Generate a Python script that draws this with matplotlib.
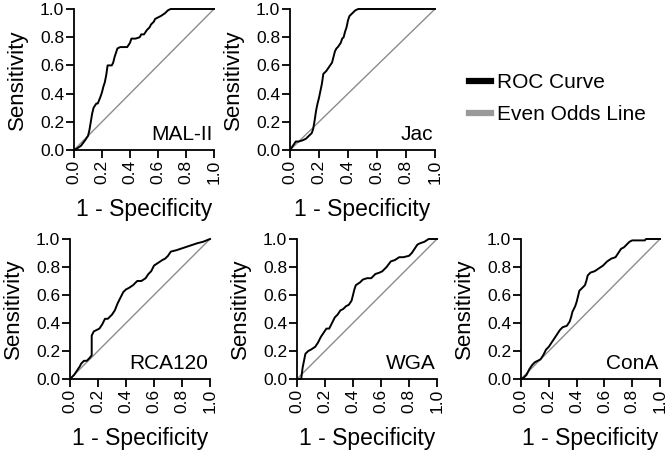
import matplotlib
matplotlib.use("Agg")
import matplotlib.pyplot as plt
from matplotlib.lines import Line2D

plt.rcParams["font.family"] = ["Liberation Sans", "DejaVu Sans"]

# datos (1 - especificidad, sensibilidad)
mal_fpr = [0, 0.02, 0.05, 0.08, 0.10, 0.11, 0.12, 0.13, 0.14, 0.16, 0.17, 0.19, 0.20, 0.21, 0.22, 0.23, 0.24,
           0.27, 0.28, 0.29, 0.30, 0.31, 0.33, 0.38, 0.40, 0.41, 0.44, 0.47, 0.48, 0.50, 0.52, 0.54, 0.55,
           0.57, 0.58, 0.60, 0.62, 0.65, 0.67, 0.69, 1.0]
mal_tpr = [0, 0.01, 0.03, 0.07, 0.10, 0.14, 0.20, 0.26, 0.30, 0.33, 0.33, 0.38, 0.41, 0.45, 0.48, 0.53, 0.60,
           0.60, 0.62, 0.66, 0.69, 0.72, 0.73, 0.73, 0.76, 0.79, 0.79, 0.80, 0.82, 0.82, 0.85, 0.87, 0.89,
           0.91, 0.93, 0.94, 0.95, 0.97, 0.99, 1.0, 1.0]

jac_fpr = [0, 0.02, 0.04, 0.06, 0.09, 0.11, 0.13, 0.15, 0.16, 0.17, 0.18, 0.19, 0.20, 0.21, 0.22, 0.23, 0.25,
           0.27, 0.29, 0.30, 0.31, 0.32, 0.33, 0.35, 0.36, 0.37, 0.38, 0.39, 0.40, 0.41, 0.43, 0.45, 0.47, 1.0]
jac_tpr = [0, 0.03, 0.06, 0.06, 0.07, 0.08, 0.10, 0.12, 0.15, 0.21, 0.28, 0.33, 0.37, 0.42, 0.47, 0.54, 0.56,
           0.59, 0.62, 0.66, 0.70, 0.72, 0.73, 0.76, 0.79, 0.80, 0.84, 0.87, 0.92, 0.95, 0.97, 0.99, 1.0, 1.0]

rca_fpr = [0, 0.03, 0.05, 0.07, 0.08, 0.10, 0.12, 0.14, 0.155, 0.155, 0.17, 0.19, 0.21, 0.23, 0.25, 0.27,
           0.30, 0.32, 0.34, 0.36, 0.38, 0.40, 0.42, 0.45, 0.48, 0.51, 0.54, 0.56, 0.58, 0.60, 0.63, 0.66,
           0.68, 0.70, 0.72, 0.76, 0.79, 0.82, 0.85, 0.88, 0.91, 0.95, 1.0]
rca_tpr = [0, 0.03, 0.06, 0.09, 0.11, 0.13, 0.13, 0.15, 0.17, 0.31, 0.34, 0.35, 0.36, 0.39, 0.43, 0.43,
           0.46, 0.49, 0.54, 0.58, 0.62, 0.64, 0.65, 0.67, 0.70, 0.70, 0.72, 0.75, 0.77, 0.81, 0.83, 0.85,
           0.86, 0.88, 0.91, 0.92, 0.93, 0.94, 0.95, 0.96, 0.97, 0.98, 1.0]

wga_fpr = [0, 0.03, 0.04, 0.05, 0.06, 0.08, 0.10, 0.13, 0.15, 0.17, 0.19, 0.21, 0.23, 0.25, 0.27, 0.29,
           0.31, 0.33, 0.35, 0.37, 0.39, 0.40, 0.41, 0.42, 0.45, 0.47, 0.50, 0.53, 0.56, 0.59, 0.61, 0.64,
           0.67, 0.70, 0.73, 0.76, 0.80, 0.82, 0.84, 0.86, 0.88, 0.91, 0.94, 1.0]
wga_tpr = [0, 0.0, 0.08, 0.13, 0.18, 0.20, 0.21, 0.23, 0.26, 0.30, 0.33, 0.36, 0.36, 0.40, 0.44, 0.46,
           0.49, 0.50, 0.52, 0.53, 0.56, 0.60, 0.64, 0.67, 0.69, 0.71, 0.72, 0.72, 0.75, 0.76, 0.77, 0.80,
           0.84, 0.85, 0.87, 0.87, 0.88, 0.90, 0.93, 0.96, 0.97, 0.98, 1.0, 1.0]

cona_fpr = [0, 0.02, 0.04, 0.06, 0.08, 0.10, 0.12, 0.14, 0.16, 0.18, 0.20, 0.22, 0.24, 0.26, 0.28, 0.30,
            0.33, 0.35, 0.36, 0.37, 0.39, 0.40, 0.41, 0.42, 0.44, 0.46, 0.47, 0.48, 0.50, 0.53, 0.56, 0.59,
            0.62, 0.65, 0.68, 0.70, 0.72, 0.74, 0.76, 0.78, 0.80, 0.89, 0.90, 1.0]
cona_tpr = [0, 0.01, 0.03, 0.07, 0.10, 0.12, 0.13, 0.14, 0.17, 0.21, 0.23, 0.26, 0.29, 0.32, 0.35, 0.37,
            0.38, 0.41, 0.44, 0.48, 0.52, 0.55, 0.59, 0.63, 0.65, 0.67, 0.70, 0.74, 0.76, 0.77, 0.79, 0.81,
            0.84, 0.86, 0.87, 0.90, 0.93, 0.94, 0.96, 0.98, 0.99, 0.99, 1.0, 1.0]

ticks = [0.0, 0.2, 0.4, 0.6, 0.8, 1.0]
tick_labels = ["0.0", "0.2", "0.4", "0.6", "0.8", "1.0"]

W, H = 670, 454
# (nombre, fpr, tpr, caja en pixeles izq, der, arriba, abajo)
paneles = [
    ("MAL-II", mal_fpr, mal_tpr, (74, 214, 9, 150)),
    ("Jac", jac_fpr, jac_tpr, (290, 435, 9, 150)),
    ("RCA120", rca_fpr, rca_tpr, (70, 210, 239, 379)),
    ("WGA", wga_fpr, wga_tpr, (297, 437, 239, 379)),
    ("ConA", cona_fpr, cona_tpr, (521, 660, 239, 379)),
]

fig = plt.figure(figsize=(W / 100, H / 100), dpi=100)

for nombre, fpr, tpr, (x0, x1, y0, y1) in paneles:
    ax = fig.add_axes([x0 / W, 1 - y1 / H, (x1 - x0) / W, (y1 - y0) / H])
    ax.plot(ticks, ticks, color="#8c8c8c", lw=1.0, clip_on=False, zorder=2)
    ax.plot(fpr, tpr, color="black", lw=1.4, clip_on=False, zorder=3)
    ax.set_xlim(0, 1)
    ax.set_ylim(0, 1)
    ax.set_xticks(ticks)
    ax.set_yticks(ticks)
    ax.set_xticklabels(tick_labels, rotation=90)
    ax.set_yticklabels(tick_labels)
    for s in ["top", "right"]:
        ax.spines[s].set_visible(False)
    for s in ["left", "bottom"]:
        ax.spines[s].set_linewidth(1.3)
    ax.tick_params(direction="out", length=5.5, width=1.3, labelsize=12.5, pad=1.5)
    ax.set_xlabel("1 - Specificity", fontsize=16.5, labelpad=10)
    ax.set_ylabel("Sensitivity", fontsize=16, labelpad=9)
    ax.text(0.99, 0.045, nombre, transform=ax.transAxes, ha="right", va="bottom", fontsize=15)

handles = [Line2D([], [], color="black", lw=4.5), Line2D([], [], color="#999999", lw=4.5)]
fig.legend(handles, ["ROC Curve", "Even Odds Line"], loc="upper left", bbox_to_anchor=(469 / W, 1 - 73 / H),
           frameon=False, fontsize=15, handlelength=1.05, handletextpad=0.3, labelspacing=0.62,
           borderpad=0, borderaxespad=0)

fig.savefig("out.png", dpi=100)
